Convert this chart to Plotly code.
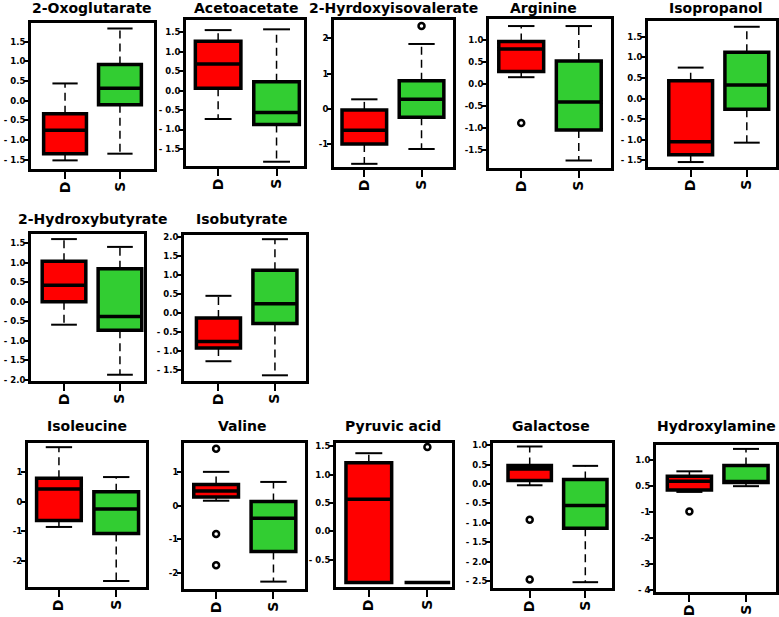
import plotly.graph_objects as go

# %%
names = ["2-Oxoglutarate", "Acetoacetate", "2-Hyrdoxyisovalerate", "Arginine", "Isopropanol",
         "2-Hydroxybutyrate", "Isobutyrate",
         "Isoleucine", "Valine", "Pyruvic acid", "Galactose", "Hydroxylamine"]
groups = ["D", "S"]

# group D: lower whisker, q1, median, q3, upper whisker
d_low = [-1.52, -0.73, -1.56, 0.15, -1.54, -0.59, -1.26, -0.85, 0.15, -0.90, -0.03, -0.24]
d_q1 = [-1.35, 0.06, -1.00, 0.28, -1.36, 0.00, -0.91, -0.63, 0.26, -0.90, 0.09, -0.17]
d_med = [-0.75, 0.69, -0.61, 0.79, -1.05, 0.42, -0.74, 0.42, 0.44, 0.57, 0.39, 0.17]
d_q3 = [-0.33, 1.27, -0.03, 0.96, 0.43, 1.03, -0.12, 0.78, 0.63, 1.21, 0.48, 0.36]
d_high = [0.44, 1.56, 0.27, 1.31, 0.75, 1.60, 0.46, 1.82, 1.01, 1.38, 0.97, 0.55]
d_out = [[], [], [], [-0.89], [], [], [], [], [1.70, -0.84, -1.77], [], [-0.92, -2.46], [-0.99]]

# group S
s_low = [-1.35, -1.83, -1.14, -1.74, -1.07, -1.87, -1.63, -2.66, -2.26, -0.90, -2.53, -0.02]
s_q1 = [-0.10, -0.87, -0.24, -1.05, -0.26, -0.73, -0.27, -1.07, -1.36, -0.90, -1.14, 0.12]
s_med = [0.32, -0.56, 0.27, -0.41, 0.33, -0.38, 0.25, -0.25, -0.37, -0.90, -0.55, 0.15]
s_q3 = [0.92, 0.23, 0.80, 0.52, 1.12, 0.84, 1.13, 0.33, 0.13, -0.90, 0.12, 0.77]
s_high = [1.84, 1.58, 1.84, 1.31, 1.74, 1.40, 1.95, 0.82, 0.71, -0.90, 0.47, 1.41]
s_out = [[], [], [2.35], [], [], [], [], [], [], [1.49], [], []]

# y tick values / labels as printed on each panel
t15 = [1.5, 1.0, 0.5, 0.0, -0.5, -1.0, -1.5]
l15 = ["1.5", "1.0", "0.5", "0.0", "- 0.5", "- 1.0", "- 1.5"]
y_ticks = [
    (t15, l15),
    (t15, l15),
    ([2, 1, 0, -1], ["2", "1", "0", "-1"]),
    ([1.0, 0.5, 0.0, -0.5, -1.0, -1.5], ["1.0", "0.5", "0.0", "-0.5", "-1.0", "-1.5"]),
    (t15, l15),
    (t15 + [-2.0], l15 + ["- 2.0"]),
    ([2.0] + t15, ["2.0"] + l15),
    ([1, 0, -1, -2], ["1", "0", "-1", "-2"]),
    ([1, 0, -1, -2], ["1", "0", "-1", "-2"]),
    ([1.5, 1.0, 0.5, 0.0, -0.5], ["1.5", "1.0", "0.5", "0.0", "- 0.5"]),
    ([1.0, 0.5, 0.0, -0.5, -1.0, -1.5, -2.0, -2.5],
     ["1.0", "0.5", "0.0", "- 0.5", "- 1.0", "- 1.5", "- 2.0", "- 2.5"]),
    ([1, 0, -1, -2, -3, -4], ["1.0", "0.5", "-1", "-2", "-3", "- 4"]),
]

# %%
y_ranges = [[-1.74, 1.98], [-1.94, 1.82], [-1.65, 2.52], [-1.91, 1.47], [-1.66, 1.88],
            [-2.03, 1.73], [-1.78, 2.06],
            [-2.86, 1.96], [-2.48, 1.87], [-0.98, 1.56], [-2.68, 1.06], [-4.08, 1.56]]
x_ranges = [[-0.62, 1.62], [-0.55, 1.47], [-0.53, 1.55], [-0.56, 1.56], [-0.76, 1.52],
            [-0.59, 1.43], [-0.61, 1.55],
            [-0.54, 1.52], [-0.56, 1.55], [-0.56, 1.42], [-0.66, 1.48], [-0.59, 1.53]]
# frame boxes in pixels: left, top, right, bottom
frames = [(31, 23, 154, 169), (186, 20, 304, 166), (334, 20, 453, 167), (489, 19, 611, 168),
          (648, 21, 776, 167),
          (31, 234, 144, 381), (184, 235, 306, 381),
          (28, 443, 146, 587), (184, 443, 305, 589), (336, 443, 452, 587), (493, 443, 612, 588),
          (656, 445, 776, 592)]
title_pos = [(92, 8), (246, 8), (393, 8), (543, 8), (716, 8), (92, 219), (242, 219),
             (87, 426), (243, 426), (393, 426), (551, 426), (716, 426)]

W, H = 779, 617
BW = 0.78
CAP = 0.23
colors = {"D": "#FF0000", "S": "#32CD32"}
font = "DejaVu Sans"

fig = go.Figure()
layout = dict(width=W, height=H, margin=dict(l=0, r=0, t=0, b=0, autoexpand=False),
              paper_bgcolor="white", plot_bgcolor="white", showlegend=False,
              boxmode="overlay", annotations=[])

for i, name in enumerate(names):
    n = "" if i == 0 else str(i + 1)
    xa, ya = "x" + n, "y" + n
    l, t, r, b = frames[i]
    layout["xaxis" + n] = dict(
        domain=[l / W, r / W], anchor=ya, range=x_ranges[i], automargin=False,
        tickvals=[0, 1], ticktext=groups, tickangle=-90,
        ticks="outside", ticklen=7, tickwidth=2, tickcolor="black", ticklabelstandoff=-3,
        showline=True, mirror=True, linewidth=3, linecolor="black",
        showgrid=False, zeroline=False,
        tickfont=dict(family=font, size=14, weight="bold", color="black"),
    )
    tv, tt = y_ticks[i]
    layout["yaxis" + n] = dict(
        domain=[1 - b / H, 1 - t / H], anchor=xa, range=y_ranges[i], automargin=False,
        tickvals=tv, ticktext=tt,
        ticks="outside", ticklen=4, tickwidth=2, tickcolor="black", ticklabelstandoff=-3,
        showline=True, mirror=True, linewidth=3, linecolor="black",
        showgrid=False, zeroline=False,
        tickfont=dict(family=font, size=8.5, weight="bold", color="black"),
    )
    cx, cy = title_pos[i]
    layout["annotations"].append(dict(
        text=name, x=cx / W, y=1 - cy / H, xref="paper", yref="paper",
        xanchor="center", yanchor="middle", showarrow=False,
        font=dict(family=font, size=14, weight="bold", color="black"),
    ))

    stats = {
        "D": (d_low[i], d_q1[i], d_med[i], d_q3[i], d_high[i], d_out[i]),
        "S": (s_low[i], s_q1[i], s_med[i], s_q3[i], s_high[i], s_out[i]),
    }
    for c, g in enumerate(groups):
        lo, q1, med, q3, hi, out = stats[g]
        # dashed whiskers
        fig.add_trace(go.Scatter(
            x=[c, c, None, c, c], y=[q3, hi, None, q1, lo], mode="lines",
            line=dict(color="black", width=1.5, dash="8px,5px"),
            xaxis=xa, yaxis=ya, hoverinfo="skip",
        ))
        # whisker caps
        fig.add_trace(go.Scatter(
            x=[c - CAP, c + CAP, None, c - CAP, c + CAP], y=[hi, hi, None, lo, lo],
            mode="lines", line=dict(color="black", width=2),
            xaxis=xa, yaxis=ya, hoverinfo="skip",
        ))
        fig.add_trace(go.Box(
            x=[c], q1=[q1], median=[med], q3=[q3], lowerfence=[q1], upperfence=[q3],
            width=BW, whiskerwidth=0, fillcolor=colors[g],
            line=dict(color="black", width=3.5),
            xaxis=xa, yaxis=ya, hoverinfo="skip",
        ))
        if out:
            fig.add_trace(go.Scatter(
                x=[c] * len(out), y=out, mode="markers",
                marker=dict(symbol="circle-open", size=6, color="black",
                            line=dict(width=2.5, color="black")),
                xaxis=xa, yaxis=ya, hoverinfo="skip",
            ))

fig.update_layout(layout)
# the page body keeps a default 8px margin; drop it so the figure sits at the top-left
fig.write_html("out.html", config={"displayModeBar": False},
               post_script="document.body.style.margin = '0';")
